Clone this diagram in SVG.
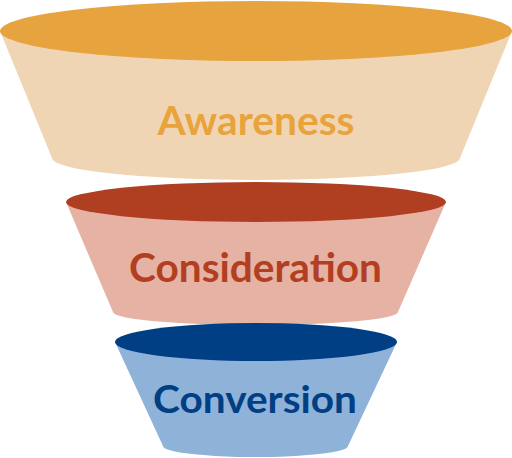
<svg xmlns="http://www.w3.org/2000/svg" width="512" height="458" viewBox="0 0 512 458">
<style>
.lbl{font-family:Lato,"Open Sans","Liberation Sans",sans-serif;font-weight:bold;text-anchor:middle}
</style>
<rect width="512" height="458" fill="#ffffff"/>
<g id="awareness">
<path d="M0,31 L52,158 A204,22 0 0 0 460,158 L512,31 Z" fill="#F0D5B4"/>
<ellipse cx="256" cy="31" rx="256" ry="30" fill="#E6A33E"/>
<text class="lbl" x="256" y="135" font-size="40" fill="#E8A33D" textLength="197" lengthAdjust="spacingAndGlyphs">Awareness</text>
</g>
<g id="consideration">
<path d="M66,202 L113,312 A142.5,13 0 0 0 398,312 L446,202 Z" fill="#E6B2A4"/>
<ellipse cx="256" cy="202" rx="190" ry="20" fill="#B03E20"/>
<text class="lbl" x="255.5" y="282" font-size="40" fill="#B23F21" textLength="253" lengthAdjust="spacingAndGlyphs">Consideration</text>
</g>
<g id="conversion">
<path d="M115,342 L163,446 A92.5,11 0 0 0 348,446 L397,342 Z" fill="#8FB2D9"/>
<ellipse cx="256" cy="342" rx="141" ry="19" fill="#003F83"/>
<text class="lbl" x="255" y="413" font-size="38" fill="#003F83" textLength="204" lengthAdjust="spacingAndGlyphs">Conversion</text>
</g>
<g id="connectors"></g>
</svg>
